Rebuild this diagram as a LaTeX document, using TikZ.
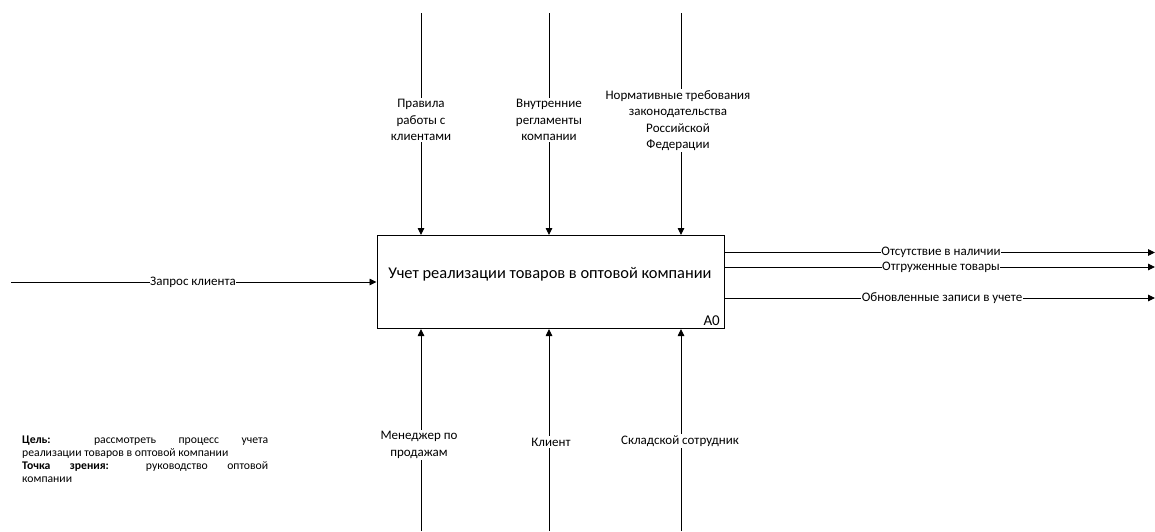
\documentclass[tikz,border=0pt]{standalone}
\usepackage{fontspec}
\setmainfont{Carlito}
\usetikzlibrary{arrows.meta}
\begin{document}
\begin{tikzpicture}[x=1pt,y=-1pt,
  arr/.style={draw=black,line width=0.9pt,-{Triangle[length=7pt,width=6.5pt]}},
  lbl/.style={fill=white,inner sep=1.5pt,align=center,font=\fontsize{13}{16.5}\selectfont},
  olbl/.style={fill=white,inner xsep=0.5pt,inner ysep=1pt,font=\fontsize{13}{14}\selectfont},
  func/.style={draw=black,line width=1pt,minimum width=347pt,minimum height=93pt,inner sep=0pt}
]
\useasboundingbox (0,0) rectangle (1155,531);
\node[func] (A) at (550.5,282) {};
\node[font=\fontsize{16.4}{18}\selectfont] (title) at (550,274) {Учет реализации товаров в оптовой компании};
\node[font=\fontsize{15}{16}\selectfont,anchor=south east,inner sep=2pt] (num) at (722,328) {A0};
% top controls
\coordinate (c1) at (421,13);
\coordinate (c2) at (549,13);
\coordinate (c3) at (681,13);
\draw[arr] (c1) -- (A.north -| c1);
\draw[arr] (c2) -- (A.north -| c2);
\draw[arr] (c3) -- (A.north -| c3);
\node[lbl] (l1) at (421,120) {Правила\\работы с\\клиентами};
\node[lbl] (l2) at (549,120) {Внутренние\\регламенты\\компании};
\node[lbl] (l3) at (678,120.5) {Нормативные требования\\законодательства\\Российской\\Федерации};
% bottom mechanisms
\coordinate (m1) at (421,531);
\coordinate (m2) at (549,531);
\coordinate (m3) at (681,531);
\draw[arr] (m1) -- (A.south -| m1);
\draw[arr] (m2) -- (A.south -| m2);
\draw[arr] (m3) -- (A.south -| m3);
\node[lbl] (b1) at (419,445) {Менеджер по\\продажам};
\node[lbl] (b2) at (551,442) {Клиент};
\node[lbl] (b3) at (680,441) {Складской сотрудник};
% input
\coordinate (in) at (11,282);
\draw[arr] (in) -- (A.west |- in);
\node[olbl] (il) at (193,282) {Запрос клиента};
% outputs
\coordinate (o1) at (1155,252.5);
\coordinate (o2) at (1155,267);
\coordinate (o3) at (1155,298);
\draw[arr] (A.east |- o1) -- (o1);
\draw[arr] (A.east |- o2) -- (o2);
\draw[arr] (A.east |- o3) -- (o3);
\node[olbl] (ol1) at (941,252.5) {Отсутствие в наличии};
\node[olbl] (ol2) at (941,267) {Отгруженные товары};
\node[olbl] (ol3) at (942,298) {Обновленные записи в учете};
% note
\node[anchor=north west,text width=246pt,align=justify,inner sep=0pt,font=\fontsize{11.7}{12.8}\selectfont] (note) at (22,436)
{\textbf{Цель:} рассмотреть процесс учета\linebreak реализации товаров в оптовой компании\par
\textbf{Точка зрения:} руководство оптовой\linebreak компании};
\end{tikzpicture}
\end{document}
